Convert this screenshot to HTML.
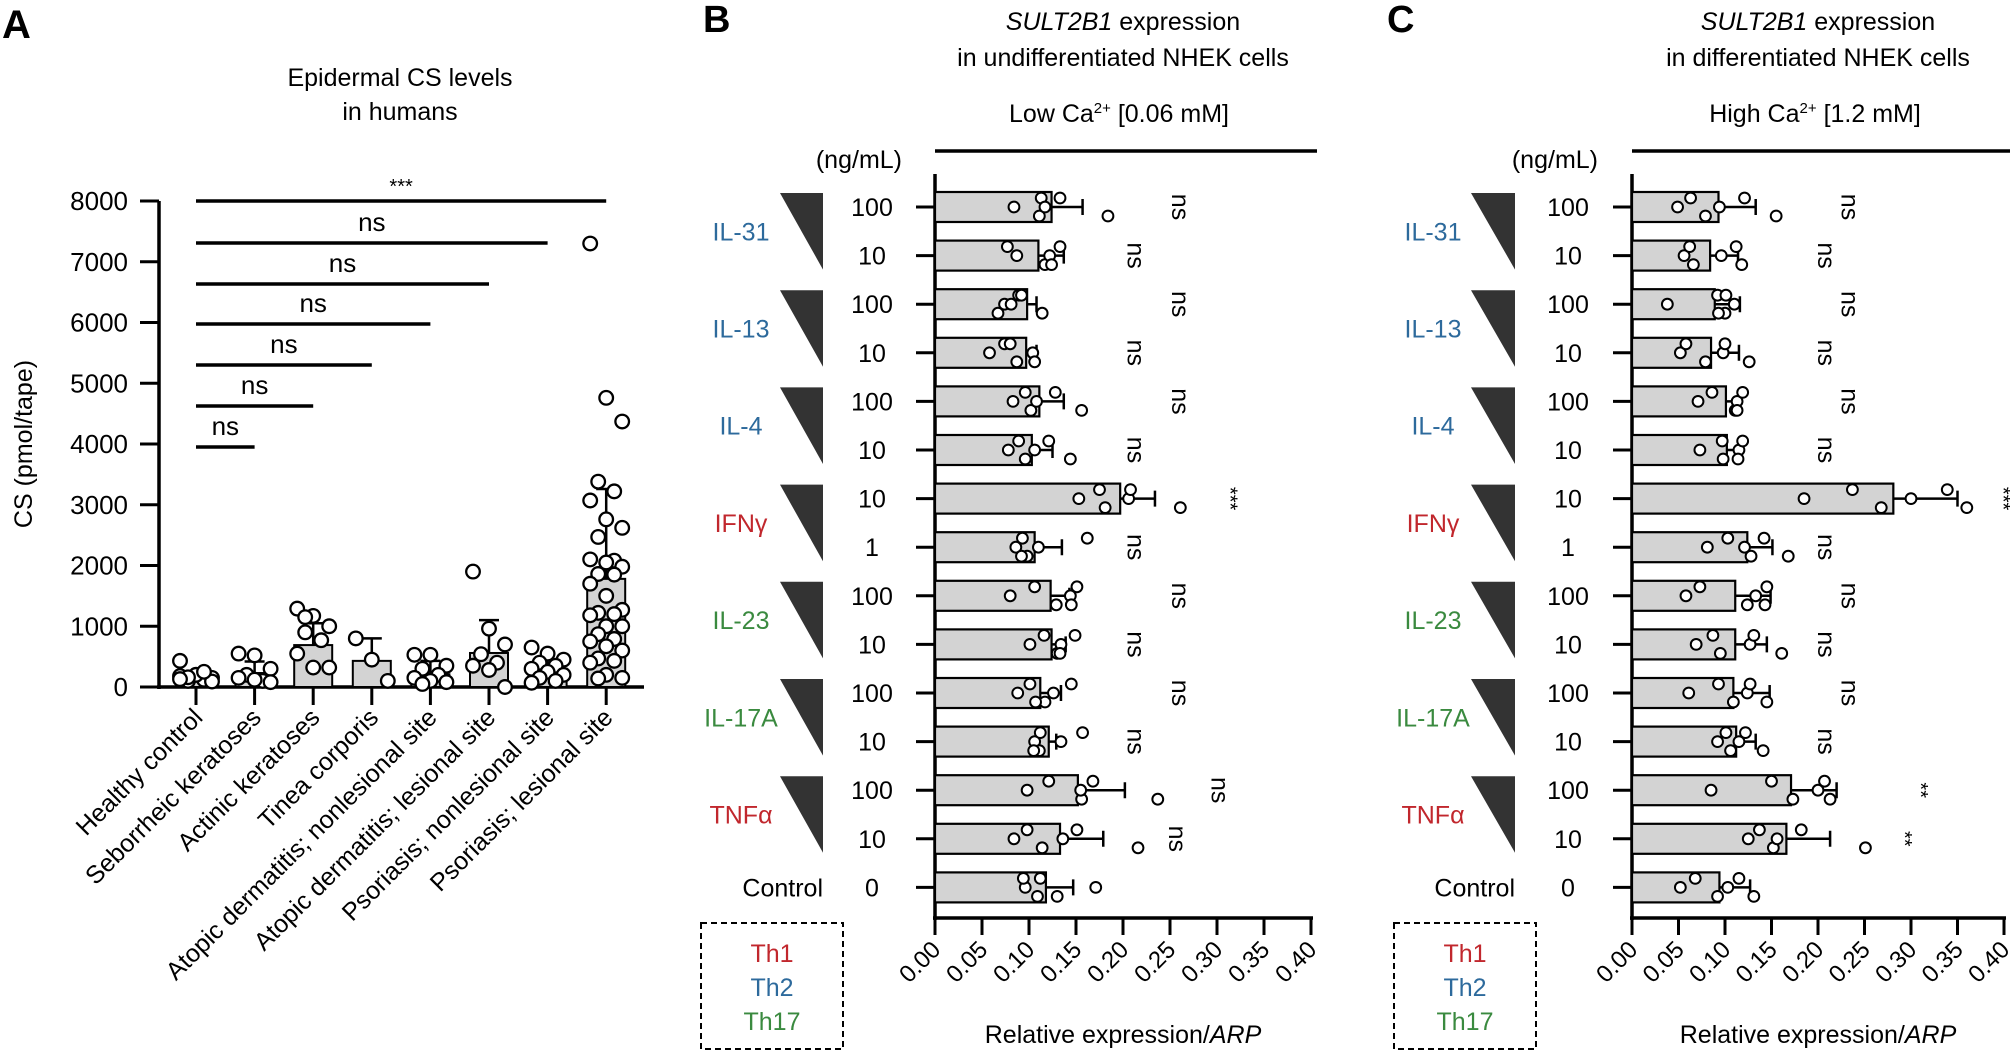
<!DOCTYPE html>
<html><head><meta charset="utf-8"><style>
html,body{margin:0;padding:0;background:#fff}
svg{display:block;font-family:"Liberation Sans",Arial,sans-serif}
</style></head><body>
<svg id="fig" width="2010" height="1051" viewBox="0 0 2010 1051" xmlns="http://www.w3.org/2000/svg">
<g id="pa">
<text x="2" y="38" font-size="40" font-weight="bold">A</text>
<text x="400" y="86" font-size="25" text-anchor="middle">Epidermal CS levels</text>
<text x="400" y="120" font-size="25" text-anchor="middle">in humans</text>
<text transform="translate(32,444) rotate(-90)" font-size="25" text-anchor="middle">CS (pmol/tape)</text>
</g>
<g id="pb"></g>
<g id="pc"></g>
</svg>
<script>
// ---------- Panel A data ----------
const aCategories = ["Healthy control","Seborrheic keratoses","Actinic keratoses","Tinea corporis","Atopic dermatitis; nonlesional site","Atopic dermatitis; lesional site","Psoriasis; nonlesional site","Psoriasis; lesional site"];
const aMeans = [200, 230, 690, 430, 210, 560, 300, 1780];
const aErrUpper = [260, 420, 1050, 800, 430, 1100, 450, 3260];
const aPoints = [
 [430,200,150,100,120,180,200,90,160,250,130],
 [550,520,300,200,100,150,120,80],
 [1290,1170,1000,900,770,550,320,320,1150],
 [800,450,100],
 [530,530,350,300,200,150,100,80,50],
 [1900,960,700,540,400,350,280,0],
 [650,550,450,400,350,300,250,200,150,100,70],
 [7300,4760,4370,3380,3220,3070,2760,2620,2470,2080,2100,2050,1980,1860,1850,1700,1500,1270,1220,1200,1180,1000,1000,870,790,750,670,600,470,430,400,200,150,140]
];
const aYTicks = [0,1000,2000,3000,4000,5000,6000,7000,8000];
const aSigLabels = ["ns","ns","ns","ns","ns","ns","***"];
const aSigTargets = [1,2,3,4,5,6,7];

// ---------- Panel B/C shared ----------
const rowCytokines = ["IL-31","IL-13","IL-4","IFNγ","IL-23","IL-17A","TNFα"];
const rowCytoColors = ["#2d6a9c","#2d6a9c","#2d6a9c","#c1272d","#3a8a3f","#3a8a3f","#c1272d"];
const rowDoses = ["100","10","100","10","100","10","10","1","100","10","100","10","100","10","0"];
const xTicks = [0,0.05,0.10,0.15,0.20,0.25,0.30,0.35,0.40];

const bMeans = [0.124,0.110,0.098,0.097,0.111,0.103,0.197,0.106,0.123,0.124,0.112,0.121,0.152,0.133,0.118];
const bErr = [0.157,0.137,0.108,0.108,0.137,0.125,0.234,0.135,0.143,0.139,0.134,0.129,0.202,0.179,0.147];
const bPoints = [
 [.084,.113,.111,.117,.133,.184],[.087,.077,.117,.122,.133,.124],[.074,.089,.067,.081,.092,.114],
 [.058,.074,.087,.104,.080,.106],[.083,.096,.102,.108,.128,.156],[.078,.089,.096,.106,.121,.144],
 [.153,.175,.181,.206,.208,.261],[.086,.093,.098,.110,.162,.092],[.080,.106,.129,.144,.151,.145],
 [.101,.116,.130,.134,.149,.133],[.088,.101,.117,.126,.145,.107],[.106,.112,.111,.134,.157,.105],
 [.098,.121,.156,.155,.168,.237],[.084,.098,.114,.136,.151,.216],[.096,.112,.130,.171,.094,.109]
];
const bSig = ["ns","ns","ns","ns","ns","ns","***","ns","ns","ns","ns","ns","ns","ns",""];
const bSigVal = [0.252,0.205,0.252,0.205,0.252,0.205,0.307,0.205,0.252,0.205,0.252,0.205,0.294,0.249,0];

const cMeans = [0.093,0.084,0.089,0.085,0.101,0.102,0.281,0.124,0.111,0.111,0.109,0.112,0.171,0.166,0.094];
const cErr = [0.133,0.114,0.116,0.115,0.115,0.115,0.350,0.151,0.149,0.145,0.148,0.133,0.220,0.213,0.127];
const cPoints = [
 [.049,.063,.079,.094,.121,.155],[.056,.062,.066,.096,.112,.118],[.038,.092,.100,.110,.101,.093],
 [.052,.058,.079,.098,.100,.126],[.071,.086,.111,.113,.119,.113],[.073,.097,.098,.115,.119,.114],
 [.185,.237,.268,.300,.339,.360],[.081,.103,.128,.121,.142,.168],[.058,.073,.124,.133,.145,.143],
 [.069,.087,.095,.127,.131,.161],[.061,.093,.109,.124,.127,.145],[.092,.101,.106,.115,.122,.141],
 [.085,.150,.173,.200,.207,.213],[.125,.137,.152,.156,.182,.251],[.052,.068,.092,.103,.115,.131]
];
const cSig = ["ns","ns","ns","ns","ns","ns","***","ns","ns","ns","ns","ns","**","**",""];
const cSigVal = [0.225,0.200,0.225,0.200,0.225,0.200,0.392,0.200,0.225,0.200,0.225,0.200,0.303,0.286,0];

const NS = "http://www.w3.org/2000/svg";
function mk(tag, attrs, parent, txt){
  const e = document.createElementNS(NS, tag);
  for (const k in attrs) e.setAttribute(k, attrs[k]);
  if (txt !== undefined) e.textContent = txt;
  parent.appendChild(e);
  return e;
}

// ---------- Panel A ----------
(function(){
  const g = document.getElementById('pa');
  const x0 = 159, x1 = 644, yBase = 687, yTop = 201, yMax = 8000;
  const ay = v => yBase - v / yMax * (yBase - yTop);
  const ax = i => 196 + i * 58.6;
  let e;
  e = mk('line',{x1:x0,y1:yTop,x2:x0,y2:yBase+2,stroke:'#000','stroke-width':3.5},g);
  
  
  e = mk('line',{x1:x0-2,y1:yBase,x2:x1,y2:yBase,stroke:'#000','stroke-width':3.5},g);
  
  
  aYTicks.forEach(t=>{
    const y = ay(t);
    let l = mk('line',{x1:x0-19,y1:y,x2:x0,y2:y,stroke:'#000','stroke-width':3},g);
    
    
    let tx = mk('text',{x:128,y:y+9,'font-size':26,'text-anchor':'end'},g,String(t));
    
    
  });
  aCategories.forEach((c,i)=>{
    const x = ax(i);
    let l = mk('line',{x1:x,y1:yBase,x2:x,y2:yBase+18,stroke:'#000','stroke-width':3},g);
    
    
    let tx = mk('text',{transform:`translate(${x+8},${yBase+32}) rotate(-45)`,'font-size':25,'text-anchor':'end'},g,c);
    
    
    const bw = 38;
    let b = mk('rect',{x:x-bw/2,y:ay(aMeans[i]),width:bw,height:yBase-ay(aMeans[i]),fill:'#d3d3d3',stroke:'#000','stroke-width':2},g);
    
    
    let eb = mk('path',{d:`M${x},${ay(aMeans[i])}V${ay(aErrUpper[i])}M${x-10},${ay(aErrUpper[i])}H${x+10}`,stroke:'#000','stroke-width':2.5,fill:'none'},g);
    
    
    aPoints[i].forEach((v,j)=>{
      const off = ((j*7)%5 - 2) * 8;
      let p = mk('circle',{cx:x+off,cy:ay(v),r:6.8,fill:'#fff',stroke:'#000','stroke-width':2.3},g);
      
      
    });
  });
  const sigY = [447,406,365,324,284,243,201];
  aSigTargets.forEach((t,k)=>{
    const y = sigY[k], xa = ax(0), xb = ax(t);
    let l = mk('line',{x1:xa,y1:y,x2:xb,y2:y,stroke:'#000','stroke-width':3.5},g);
    
    
    const lab = aSigLabels[k];
    let tx = mk('text',{x:(xa+xb)/2,y:lab==='***'?y-8:y-12,'font-size':lab==='***'?20:26,'text-anchor':'middle'},g,lab);
    
    
  });
})();

// ---------- Panels B & C ----------
function drawPanel(gid, o, means, errs, pts, sig, sigVal){
  const g = document.getElementById(gid);
  const vx = v => o.ax0 + v / 0.40 * (o.ax1 - o.ax0);
  const ry = i => 207 + i * 48.6;
  let e;
  e = mk('text',{x:o.letterX,y:32,'font-size':38,'font-weight':'bold'},g,o.letter);
  
  
  e = mk('text',{x:o.titleX,y:30,'font-size':25,'text-anchor':'middle'},g);
  
  
  mk('tspan',{'font-style':'italic'},e,'SULT2B1');
  mk('tspan',{},e,' expression');
  e = mk('text',{x:o.titleX,y:66,'font-size':25,'text-anchor':'middle'},g,o.title2);
  
  
  e = mk('text',{x:o.caX,y:122,'font-size':25,'text-anchor':'middle'},g);
  
  
  mk('tspan',{},e,o.caPre+' Ca');
  mk('tspan',{'font-size':15,dy:-9},e,'2+');
  mk('tspan',{dy:9},e,' '+o.caPost);
  e = mk('line',{x1:o.ax0,y1:151,x2:o.ax1+6,y2:151,stroke:'#000','stroke-width':3.5},g);
  
  
  e = mk('text',{x:o.doseX+30,y:168,'font-size':25,'text-anchor':'end'},g,'(ng/mL)');
  
  
  e = mk('line',{x1:o.ax0,y1:174,x2:o.ax0,y2:920,stroke:'#000','stroke-width':3.5},g);
  
  
  e = mk('line',{x1:o.ax0-2,y1:918,x2:o.ax1+2,y2:918,stroke:'#000','stroke-width':3.5},g);
  
  
  xTicks.forEach(t=>{
    const x = vx(t);
    let l = mk('line',{x1:x,y1:918,x2:x,y2:935,stroke:'#000','stroke-width':3},g);
    
    
    let tx = mk('text',{transform:`translate(${x+7},${951}) rotate(-45)`,'font-size':24,'text-anchor':'end'},g,t.toFixed(2));
    
    
  });
  e = mk('text',{x:(o.ax0+o.ax1)/2,y:1043,'font-size':25,'text-anchor':'middle'},g);
  
  
  mk('tspan',{},e,'Relative expression/');
  mk('tspan',{'font-style':'italic'},e,'ARP');
  rowDoses.forEach((d,i)=>{
    const y = ry(i);
    let l = mk('line',{x1:o.ax0-19,y1:y,x2:o.ax0,y2:y,stroke:'#000','stroke-width':3},g);
    
    
    let tx = mk('text',{x:o.doseX,y:y+9,'font-size':25,'text-anchor':'middle'},g,d);
    
    
    const bh = 30, m = means[i];
    let b = mk('rect',{x:o.ax0,y:y-bh/2,width:vx(m)-o.ax0,height:bh,fill:'#d3d3d3',stroke:'#000','stroke-width':2.2},g);
    
    
    let eb = mk('path',{d:`M${vx(m)},${y}H${vx(errs[i])}M${vx(errs[i])},${y-8}V${y+8}`,stroke:'#000','stroke-width':2.5,fill:'none'},g);
    
    
    const offs = [0,-9,9,0,-9,9];
    pts[i].forEach((v,j)=>{
      let p = mk('circle',{cx:vx(v),cy:y+offs[j%6],r:5.4,fill:'#fff',stroke:'#000','stroke-width':2},g);
      
      
    });
    if (sig[i]){
      const sx = vx(sigVal[i]);
      let st = mk('text',{transform:`translate(${sx},${y}) rotate(90)`,'font-size':sig[i]==='ns'?25:20,'text-anchor':'middle'},g,sig[i]);
      
      
    }
  });
  rowCytokines.forEach((c,k)=>{
    const yA = ry(2*k), yB = ry(2*k+1);
    const ym = (yA+yB)/2;
    let tx = mk('text',{x:o.cytoX,y:ym+9,'font-size':25,'text-anchor':'middle',fill:rowCytoColors[k]},g,c);
    
    
    let tr = mk('polygon',{points:`${o.triX0},${yA-14} ${o.triX1},${yA-14} ${o.triX1},${yB+14}`,fill:'#333'},g);
    
    
  });
  const cy = ry(14);
  e = mk('text',{x:o.triX1,y:cy+9,'font-size':25,'text-anchor':'end'},g,'Control');
  
  
  e = mk('rect',{x:o.boxX,y:923,width:o.boxW,height:126,fill:'none',stroke:'#000','stroke-width':2,'stroke-dasharray':'6,4'},g);
  
  
  [["Th1","#c1272d"],["Th2","#2d6a9c"],["Th17","#3a8a3f"]].forEach((t,k)=>{
    let lt = mk('text',{x:o.boxX+o.boxW/2,y:962+k*34,'font-size':25,'text-anchor':'middle',fill:t[1]},g,t[0]);
    
    
  });
}
drawPanel('pb',{letter:'B',letterX:703,titleX:1123,title2:'in undifferentiated NHEK cells',caX:1119,caPre:'Low',caPost:'[0.06 mM]',
  ax0:935,ax1:1311,doseX:872,cytoX:741,triX0:780,triX1:823,boxX:701,boxW:142}, bMeans,bErr,bPoints,bSig,bSigVal);
drawPanel('pc',{letter:'C',letterX:1387,titleX:1818,title2:'in differentiated NHEK cells',caX:1815,caPre:'High',caPost:'[1.2 mM]',
  ax0:1632,ax1:2004,doseX:1568,cytoX:1433,triX0:1471,triX1:1515,boxX:1394,boxW:142}, cMeans,cErr,cPoints,cSig,cSigVal);
</script>
</body></html>
